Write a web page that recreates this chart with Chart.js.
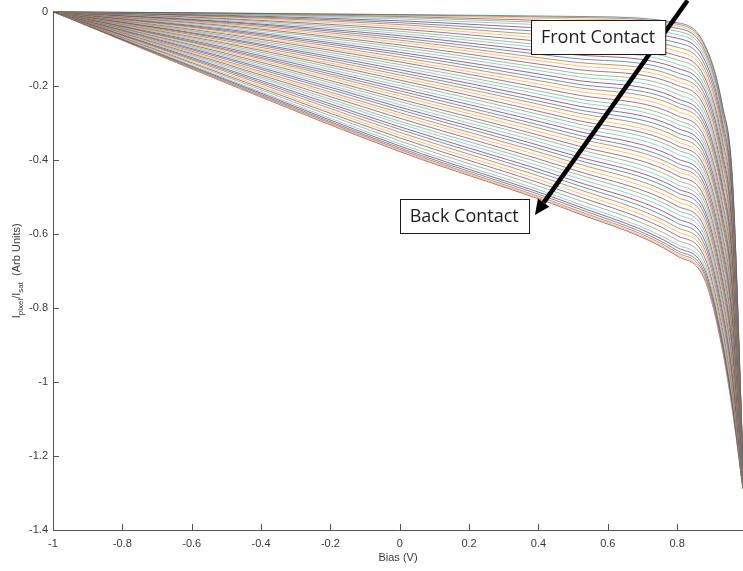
<!DOCTYPE html>
<html>
<head>
<meta charset="utf-8">
<script src="https://cdn.jsdelivr.net/npm/chart.js@4"></script>
<style>
  html, body { margin: 0; padding: 0; background: #ffffff; }
  canvas { display: block; }
</style>
</head>
<body>
<canvas id="c" width="743" height="571"></canvas>
<script>
// Bias points (V) at which every pixel curve is sampled
const biasV = [-1, -0.5, 0, 0.5, 0.8, 0.88, 0.93, 0.96, 0.99];

// All curves start from zero current at -1 V
const startCurrent = 0;

// Normalised pixel current of each curve (front contact first, back contact last)
const iAtBiasM05 = [
  -0.004, -0.004, -0.005, -0.005, -0.007, -0.008, -0.010, -0.012, -0.014, -0.016,
  -0.019, -0.021, -0.024, -0.027, -0.029, -0.032, -0.035, -0.038, -0.041, -0.045,
  -0.048, -0.051, -0.054, -0.058, -0.061, -0.065, -0.068, -0.072, -0.075, -0.079,
  -0.083, -0.086, -0.090, -0.094, -0.098, -0.102, -0.105, -0.109, -0.113, -0.117,
  -0.121, -0.125, -0.129, -0.134, -0.138, -0.142, -0.146, -0.150, -0.155, -0.159,
  -0.163, -0.168, -0.172, -0.176, -0.181, -0.184, -0.187, -0.190, -0.192, -0.193
];
const iAtBias0 = [
  -0.008, -0.009, -0.011, -0.013, -0.016, -0.020, -0.025, -0.030, -0.035, -0.041,
  -0.047, -0.053, -0.059, -0.065, -0.071, -0.077, -0.083, -0.090, -0.096, -0.103,
  -0.110, -0.116, -0.123, -0.130, -0.136, -0.143, -0.150, -0.157, -0.164, -0.171,
  -0.178, -0.185, -0.192, -0.200, -0.207, -0.214, -0.221, -0.228, -0.236, -0.243,
  -0.251, -0.258, -0.265, -0.273, -0.280, -0.288, -0.296, -0.303, -0.311, -0.318,
  -0.326, -0.334, -0.341, -0.349, -0.357, -0.363, -0.368, -0.372, -0.375, -0.378
];
const iAtBias05 = [
  -0.013, -0.016, -0.020, -0.026, -0.032, -0.039, -0.048, -0.058, -0.068, -0.077,
  -0.087, -0.097, -0.106, -0.116, -0.126, -0.136, -0.145, -0.155, -0.165, -0.174,
  -0.184, -0.194, -0.203, -0.213, -0.223, -0.233, -0.242, -0.252, -0.262, -0.271,
  -0.281, -0.291, -0.300, -0.310, -0.320, -0.330, -0.339, -0.349, -0.359, -0.368,
  -0.378, -0.388, -0.397, -0.407, -0.417, -0.427, -0.436, -0.446, -0.456, -0.465,
  -0.475, -0.485, -0.494, -0.504, -0.514, -0.521, -0.527, -0.533, -0.537, -0.540
];
const iAtBias08 = [
  -0.030, -0.034, -0.039, -0.045, -0.053, -0.062, -0.072, -0.084, -0.096, -0.107,
  -0.119, -0.130, -0.142, -0.153, -0.165, -0.177, -0.188, -0.199, -0.211, -0.223,
  -0.235, -0.246, -0.257, -0.269, -0.281, -0.293, -0.304, -0.315, -0.327, -0.339,
  -0.351, -0.362, -0.373, -0.385, -0.397, -0.409, -0.420, -0.431, -0.443, -0.455,
  -0.467, -0.478, -0.489, -0.501, -0.513, -0.525, -0.536, -0.547, -0.559, -0.571,
  -0.583, -0.594, -0.605, -0.617, -0.629, -0.637, -0.645, -0.651, -0.656, -0.660
];
const iAtBias088 = [
  -0.090, -0.094, -0.099, -0.105, -0.113, -0.122, -0.132, -0.144, -0.156, -0.167,
  -0.179, -0.190, -0.202, -0.213, -0.225, -0.237, -0.248, -0.259, -0.271, -0.283,
  -0.295, -0.306, -0.317, -0.329, -0.341, -0.353, -0.364, -0.375, -0.387, -0.399,
  -0.411, -0.422, -0.433, -0.445, -0.457, -0.469, -0.480, -0.491, -0.503, -0.515,
  -0.527, -0.538, -0.549, -0.561, -0.573, -0.585, -0.596, -0.607, -0.619, -0.631,
  -0.643, -0.654, -0.665, -0.677, -0.689, -0.698, -0.707, -0.714, -0.720, -0.725
];
const iAtBias093 = [
  -0.250, -0.254, -0.259, -0.266, -0.274, -0.283, -0.294, -0.306, -0.319, -0.331,
  -0.343, -0.355, -0.367, -0.379, -0.391, -0.404, -0.416, -0.428, -0.440, -0.452,
  -0.465, -0.476, -0.488, -0.501, -0.513, -0.525, -0.537, -0.549, -0.562, -0.573,
  -0.586, -0.598, -0.610, -0.622, -0.634, -0.647, -0.659, -0.670, -0.683, -0.695,
  -0.707, -0.719, -0.731, -0.744, -0.756, -0.768, -0.780, -0.792, -0.804, -0.816,
  -0.829, -0.841, -0.853, -0.865, -0.877, -0.886, -0.894, -0.901, -0.906, -0.910
];
const iAtBias096 = [
  -0.460, -0.464, -0.469, -0.475, -0.482, -0.491, -0.502, -0.513, -0.524, -0.536,
  -0.547, -0.559, -0.570, -0.582, -0.593, -0.604, -0.616, -0.627, -0.639, -0.650,
  -0.662, -0.673, -0.684, -0.696, -0.707, -0.719, -0.730, -0.741, -0.753, -0.764,
  -0.776, -0.787, -0.798, -0.810, -0.821, -0.833, -0.844, -0.855, -0.867, -0.878,
  -0.890, -0.901, -0.912, -0.924, -0.935, -0.947, -0.958, -0.969, -0.981, -0.992,
  -1.004, -1.015, -1.026, -1.038, -1.049, -1.058, -1.065, -1.071, -1.076, -1.080
];
const iAtBias099 = [
  -1.220, -1.220, -1.221, -1.222, -1.223, -1.224, -1.225, -1.226, -1.227, -1.229,
  -1.230, -1.231, -1.232, -1.234, -1.235, -1.236, -1.238, -1.239, -1.240, -1.241,
  -1.243, -1.244, -1.245, -1.247, -1.248, -1.249, -1.250, -1.252, -1.253, -1.254,
  -1.256, -1.257, -1.258, -1.259, -1.261, -1.262, -1.263, -1.265, -1.266, -1.267,
  -1.269, -1.270, -1.271, -1.272, -1.274, -1.275, -1.276, -1.277, -1.279, -1.280,
  -1.281, -1.283, -1.284, -1.285, -1.287, -1.287, -1.288, -1.289, -1.290, -1.290
];

// Axis ticks
const xTicks = [-1, -0.8, -0.6, -0.4, -0.2, 0, 0.2, 0.4, 0.6, 0.8];
const yTicks = [0, -0.2, -0.4, -0.6, -0.8, -1, -1.2, -1.4];

// Callout boxes and the arrow running from front to back contact (data units)
const callouts = [
  { text: 'Front Contact', x: 0.572, y: -0.0685 },
  { text: 'Back Contact',  x: 0.186, y: -0.551 }
];
const arrow = { fromX: 0.83, fromY: 0.03, toX: 0.39, toY: -0.549 };

// Default MATLAB line colour order
const palette = ['#0072BD', '#D95319', '#EDB120', '#7E2F8E', '#77AC30', '#4DBEEE', '#A2142F'];

const columns = [null, iAtBiasM05, iAtBias0, iAtBias05, iAtBias08, iAtBias088, iAtBias093, iAtBias096, iAtBias099];
const nCurves = iAtBias0.length;

function hexA(hex, a) {
  const n = parseInt(hex.slice(1), 16);
  return `rgba(${(n >> 16) & 255},${(n >> 8) & 255},${n & 255},${a})`;
}

const datasets = [];
for (let i = 0; i < nCurves; i++) {
  datasets.push({
    data: biasV.map((v, k) => ({ x: v, y: k === 0 ? startCurrent : columns[k][i] })),
    borderColor: hexA(palette[i % palette.length], 0.7),
    borderWidth: 1,
    pointRadius: 0,
    cubicInterpolationMode: 'monotone',
    fill: false
  });
}

const axisFont = { family: "'Liberation Sans', Arial, sans-serif", size: 11 };
const axisColor = '#555555';
const labelColor = '#3a3a3a';

const fmt = v => String(Math.round(v * 10) / 10);

// Inward tick marks, as on a MATLAB axes
const inwardTicks = {
  id: 'inwardTicks',
  afterDatasetsDraw(chart) {
    const { ctx, chartArea: a, scales: { x, y } } = chart;
    ctx.save();
    ctx.strokeStyle = axisColor;
    ctx.lineWidth = 1;
    ctx.beginPath();
    xTicks.forEach(v => {
      const px = Math.round(x.getPixelForValue(v)) + 0.5;
      ctx.moveTo(px, a.bottom);
      ctx.lineTo(px, a.bottom - 6);
    });
    yTicks.forEach(v => {
      const py = Math.round(y.getPixelForValue(v)) + 0.5;
      ctx.moveTo(a.left, py);
      ctx.lineTo(a.left + 6, py);
    });
    ctx.stroke();
    ctx.restore();
  }
};

// Axis titles, arrow and callout boxes
const overlay = {
  id: 'overlay',
  afterDraw(chart) {
    const { ctx, chartArea: a, scales: { x, y } } = chart;
    ctx.save();

    // x-axis title
    ctx.fillStyle = labelColor;
    ctx.font = "11px 'Liberation Sans', Arial, sans-serif";
    ctx.textAlign = 'center';
    ctx.textBaseline = 'middle';
    ctx.fillText('Bias (V)', (a.left + a.right) / 2, 558);

    // y-axis title with subscripts
    const parts = [
      { t: 'I', sub: false }, { t: 'pixel', sub: true },
      { t: '/I', sub: false }, { t: 'sat', sub: true },
      { t: '  (Arb Units)', sub: false }
    ];
    const big = "11px 'Liberation Sans', Arial, sans-serif";
    const small = "8px 'Liberation Sans', Arial, sans-serif";
    let total = 0;
    parts.forEach(p => { ctx.font = p.sub ? small : big; p.w = ctx.measureText(p.t).width; total += p.w; });
    ctx.translate(20, (a.top + a.bottom) / 2);
    ctx.rotate(-Math.PI / 2);
    ctx.textAlign = 'left';
    ctx.textBaseline = 'alphabetic';
    let cx = -total / 2;
    parts.forEach(p => {
      ctx.font = p.sub ? small : big;
      ctx.fillText(p.t, cx, p.sub ? 3 : 0);
      cx += p.w;
    });
    ctx.setTransform(1, 0, 0, 1, 0, 0);

    // arrow
    const x0 = x.getPixelForValue(arrow.fromX), y0 = y.getPixelForValue(arrow.fromY);
    const x1 = x.getPixelForValue(arrow.toX), y1 = y.getPixelForValue(arrow.toY);
    const ang = Math.atan2(y1 - y0, x1 - x0);
    const headLen = 15, headHalf = 7;
    const bx = x1 - headLen * Math.cos(ang), by = y1 - headLen * Math.sin(ang);
    ctx.strokeStyle = '#000000';
    ctx.lineWidth = 4.5;
    ctx.beginPath();
    ctx.moveTo(x0, y0);
    ctx.lineTo(bx, by);
    ctx.stroke();
    ctx.fillStyle = '#000000';
    ctx.beginPath();
    ctx.moveTo(x1, y1);
    ctx.lineTo(bx + headHalf * Math.sin(ang), by - headHalf * Math.cos(ang));
    ctx.lineTo(bx - headHalf * Math.sin(ang), by + headHalf * Math.cos(ang));
    ctx.closePath();
    ctx.fill();

    // callout boxes
    ctx.font = "18px 'Open Sans', 'Noto Sans', sans-serif";
    ctx.textAlign = 'center';
    ctx.textBaseline = 'middle';
    callouts.forEach(c => {
      const px = x.getPixelForValue(c.x), py = y.getPixelForValue(c.y);
      const w = ctx.measureText(c.text).width + 20, h = 34;
      const lx = Math.round(px - w / 2) + 0.5, ty = Math.round(py - h / 2) + 0.5;
      ctx.fillStyle = '#ffffff';
      ctx.fillRect(lx, ty, w, h);
      ctx.strokeStyle = '#1a1a1a';
      ctx.lineWidth = 1;
      ctx.strokeRect(lx, ty, w, h);
      ctx.fillStyle = '#1e1e1e';
      ctx.fillText(c.text, px, py + 1);
    });
    ctx.restore();
  }
};

new Chart(document.getElementById('c'), {
  type: 'line',
  data: { datasets },
  options: {
    responsive: false,
    animation: false,
    devicePixelRatio: 1,
    layout: { padding: { top: 8, right: 0, bottom: 0, left: 0 } },
    plugins: { legend: { display: false }, tooltip: { enabled: false } },
    elements: { line: { tension: 0 } },
    scales: {
      x: {
        type: 'linear',
        min: -1,
        max: 0.99,
        grid: { display: false, drawTicks: false },
        border: { display: true, color: axisColor, width: 1 },
        afterBuildTicks: s => { s.ticks = xTicks.map(v => ({ value: v })); },
        afterFit: s => { s.height = 41; },
        ticks: { color: labelColor, font: axisFont, padding: 7, maxRotation: 0, callback: fmt }
      },
      y: {
        type: 'linear',
        min: -1.4,
        max: 0,
        grid: { display: false, drawTicks: false },
        border: { display: true, color: axisColor, width: 1 },
        afterBuildTicks: s => { s.ticks = yTicks.map(v => ({ value: v })); },
        afterFit: s => { s.width = 53; },
        ticks: { color: labelColor, font: axisFont, padding: 5, callback: fmt }
      }
    }
  },
  plugins: [inwardTicks, overlay]
});
</script>
</body>
</html>
